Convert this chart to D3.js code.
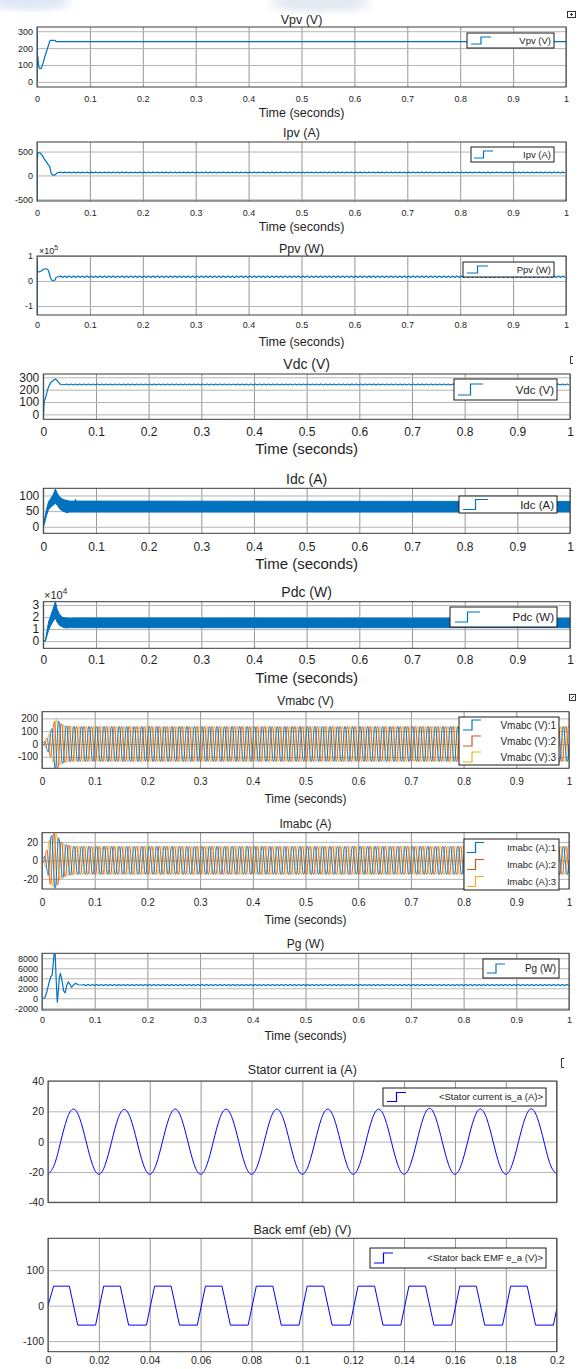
<!DOCTYPE html>
<html><head><meta charset="utf-8">
<script src="https://cdn.jsdelivr.net/npm/d3@7"></script>
<style>
body{margin:0;background:#fff}
svg{display:block}
text{font-family:"Liberation Sans",Arial,Helvetica,sans-serif;fill:#1e1e1e}
</style>
</head><body>
<script>
// ---------------- DATA ----------------
const xTicksA = [0,0.1,0.2,0.3,0.4,0.5,0.6,0.7,0.8,0.9,1];
const xLabelsA = ["0","0.1","0.2","0.3","0.4","0.5","0.6","0.7","0.8","0.9","1"];
const xTicksB = [0,0.02,0.04,0.06,0.08,0.1,0.12,0.14,0.16,0.18,0.2];
const xLabelsB = ["0","0.02","0.04","0.06","0.08","0.1","0.12","0.14","0.16","0.18","0.2"];

// Vpv (V)
const vpvT = [0,0.0001,0.0005,0.0015,0.003,0.005,0.008,0.010,0.014,0.018,0.022,0.025,0.030,0.034,0.036,1.0];
const vpvV = [0,300,160,150,95,80,80,95,140,180,220,246,246,246,238,238];

// Ipv (A)
const ipvT = [0,0.0002,0.0008,0.0015,0.003,0.006,0.010,0.014,0.018,0.021,0.024,0.027,0.030,0.033,0.035,0.038,0.040];
const ipvV = [-535,470,330,470,480,470,420,340,280,230,190,40,5,5,20,55,62];
const ipvSteady = 62, ipvRipple = 8;

// Ppv (W) x1e5
const ppvT = [0,0.0002,0.001,0.004,0.008,0.012,0.016,0.020,0.022,0.025,0.028,0.031,0.034,0.036,0.040];
const ppvV = [-1.36,0.82,0.38,0.36,0.40,0.47,0.49,0.47,0.40,0.15,0.03,0.02,0.04,0.14,0.17];
const ppvSteady = 0.17, ppvRipple = 0.03;

// Vdc (V)
const vdcT = [0,0.001,0.002,0.004,0.007,0.010,0.014,0.018,0.022,0.024,0.027,0.030,0.033,0.036,0.040];
const vdcV = [-20,60,110,130,180,225,255,272,285,283,270,255,242,240,242];
const vdcSteady = 242, vdcRipple = 4;

// Idc (A) envelope of the switching band
const idcT  = [0,0.003,0.006,0.010,0.014,0.018,0.021,0.023,0.026,0.030,0.035,0.040,0.045,0.050,0.060,0.061,0.062,1.0];
const idcHi = [2,30,55,80,90,100,112,121,108,98,90,86,84,82,82,88,82,81];
const idcLo = [0,15,35,55,62,68,72,75,70,60,52,48,45,47,47,47,47,47];

// Pdc (W) x1e4 envelope
const pdcT  = [0,0.004,0.006,0.010,0.014,0.018,0.021,0.023,0.026,0.030,0.035,0.040,0.045,0.050,0.060,1.0];
const pdcHi = [0,0.05,0.6,1.6,2.1,2.6,3.0,3.3,2.7,2.3,2.0,1.95,1.92,1.9,1.92,1.9];
const pdcLo = [0,0.0,0.3,0.9,1.3,1.6,1.8,1.9,1.6,1.35,1.2,1.12,1.1,1.12,1.12,1.12];

// Vmabc (V): three-phase, amplitude envelope
const vmFreq = 70;
const vmEnvT = [0,0.005,0.010,0.015,0.020,0.025,0.030,0.035,0.045,0.060,1.0];
const vmEnvA = [0,20,50,90,130,195,185,160,140,135,135];

// Imabc (A)
const imFreq = 70;
const imEnvT = [0,0.005,0.010,0.015,0.020,0.025,0.030,0.035,0.045,0.060,1.0];
const imEnvA = [0,5,12,25,28,30,26,20,17,15,15];

// Pg (W)
const pgT = [0,0.005,0.009,0.013,0.017,0.019,0.021,0.023,0.025,0.027,0.029,0.031,0.033,0.035,0.038,0.041,0.044,0.047,0.050,0.053,0.056,0.060,0.064,0.068,0.075];
const pgV = [0,0,1200,3000,4400,4500,6500,8900,8800,3500,-800,1500,4200,5000,3500,1500,1100,2600,3300,2800,2200,2700,3000,2700,2650];
const pgSteady = 2650, pgRipple = 120;

// Stator current is_a (A), sampled every 2.5 ms
const isT = d3.range(0, 81).map(i => i * 0.0025);
const isV = [
 -21.5,-15.2,0,15.2,21.5,15.2,0,-15.2,
 -21.5,-15.2,0,15.1,21.3,15.1,0,-15.2,
 -21.5,-15.2,0,15.2,21.5,15.2,0,-15.2,
 -21.5,-15.2,0,15.2,21.4,15.2,0,-15.2,
 -21.5,-15.2,0,15.2,21.5,15.2,0,-15.2,
 -21.5,-15.2,0,15.2,21.5,15.2,0,-15.2,
 -21.5,-15.2,0,15.2,21.4,15.2,0,-15.2,
 -21.5,-15.2,0,15.4,22.0,15.4,0,-15.2,
 -21.5,-15.2,0,15.2,21.5,15.2,0,-15.2,
 -21.5,-15.2,0,15.2,21.6,15.2,0,-15.2,
 -21.5];

// Stator back EMF e_a (V)
const emfT = [0,0.0022,0.0084,0.0117,0.0187,
  0.0219,0.0284,0.0317,0.0387,
  0.0419,0.0484,0.0517,0.0587,
  0.0619,0.0684,0.0717,0.0787,
  0.0819,0.0884,0.0917,0.0987,
  0.1019,0.1084,0.1117,0.1187,
  0.1219,0.1284,0.1317,0.1387,
  0.1419,0.1484,0.1517,0.1587,
  0.1619,0.1684,0.1717,0.1787,
  0.1819,0.1884,0.1917,0.1987,0.2];
const emfV = [0,55,55,-55,-55,
  55,55,-55,-55,
  55,55,-55,-55,
  55,55,-55,-55,
  55,55,-55,-55,
  55,55,-55,-55,
  55,55,-55,-55,
  55,55,-55,-55,
  55,55,-55,-55,
  55,55,-55,-55,-10];

const cBlue = "#0072BD", cOrange = "#D95319", cYellow = "#EDB120", cPure = "#0000FF";

// ---------------- HELPERS ----------------
const W = 579, H = 1369;
const svg = d3.select("body").append("svg").attr("width", W).attr("height", H);
svg.append("rect").attr("width", W).attr("height", H).attr("fill", "#fff");
const defs = svg.append("defs");
defs.append("filter").attr("id","blur").append("feGaussianBlur").attr("stdDeviation", 4);
svg.append("ellipse").attr("cx",30).attr("cy",2).attr("rx",40).attr("ry",8).attr("fill","#dbe6f3").attr("filter","url(#blur)");
svg.append("ellipse").attr("cx",320).attr("cy",3).attr("rx",50).attr("ry",9).attr("fill","#e1e8f1").attr("filter","url(#blur)");

function zip(T, V){ return T.map((t,i)=>[t, V[i]]); }
function addRipple(pts, steady, amp, freq){
  const t0 = pts[pts.length-1][0];
  const step = 1/(freq*4);
  const pat = [0,1,0,-1];
  let k = 0;
  for(let t = t0 + step; t <= 1.0001; t += step, k++) pts.push([t, steady + amp*pat[k%4]]);
  return pts;
}
function threePhase(envT, envA, freq){
  const env = d3.scaleLinear().domain(envT).range(envA);
  const ts = d3.range(0, 1.00001, 0.00025);
  return [0, -2*Math.PI/3, 2*Math.PI/3].map(ph =>
    ts.map(t => { const s = Math.max(-1, Math.min(1, 1.08*Math.sin(2*Math.PI*freq*t + ph))); return [t, env(t)*s]; }));
}

function panel(c){
  const g = svg.append("g");
  const x = d3.scaleLinear().domain(c.xDomain).range([c.left, c.right]);
  const y = d3.scaleLinear().domain(c.yDomain).range([c.bottom, c.top]);
  const w = c.right - c.left, h = c.bottom - c.top;
  const gx = g.append("g").attr("transform", `translate(0,${c.bottom})`)
    .call(d3.axisBottom(x).tickValues(c.xTicks).tickSize(-h).tickFormat(""));
  gx.select(".domain").remove();
  gx.selectAll("line").attr("stroke", "#8a8a8a").attr("stroke-width", 0.9);
  const gy = g.append("g").attr("transform", `translate(${c.left},0)`)
    .call(d3.axisLeft(y).tickValues(c.yTicks).tickSize(-w).tickFormat(""));
  gy.select(".domain").remove();
  gy.selectAll("line").attr("stroke", "#b4b4b4").attr("stroke-width", 1);
  const cid = "clip" + c.id;
  svg.append("clipPath").attr("id", cid).append("rect")
    .attr("x", c.left).attr("y", c.top).attr("width", w).attr("height", h);
  const plot = g.append("g").attr("clip-path", `url(#${cid})`);
  g.append("rect").attr("x", c.left).attr("y", c.top).attr("width", w).attr("height", h)
    .attr("fill", "none").attr("stroke", "#3a3a3a").attr("stroke-width", 1);
  const ly = g.append("g").attr("transform", `translate(${c.left},0)`)
    .call(d3.axisLeft(y).tickValues(c.yTicks).tickSize(0).tickPadding(4).tickFormat(c.yFmt || (d=>d)));
  ly.select(".domain").remove();
  ly.selectAll("text").attr("font-size", c.tickFs).attr("font-family", null).attr("fill", "#1e1e1e");
  if(c.xLabels){
    const lx = g.append("g").attr("transform", `translate(0,${c.bottom})`)
      .call(d3.axisBottom(x).tickValues(c.xTicks).tickSize(0)
        .tickPadding(c.xTickY - c.bottom - 0.36*c.tickFs).tickFormat((d,i)=>c.xLabels[i]));
    lx.select(".domain").remove();
    lx.selectAll("text").attr("font-size", c.tickFs).attr("font-family", null).attr("fill", "#1e1e1e");
  }
  g.append("text").attr("x", (c.left+c.right)/2).attr("y", c.titleY + 0.35*c.titleFs)
    .attr("text-anchor", "middle").attr("font-size", c.titleFs).text(c.title);
  if(c.timeY){
    g.append("text").attr("x", (c.left+c.right)/2).attr("y", c.timeY + 0.35*c.timeFs)
      .attr("text-anchor", "middle").attr("font-size", c.timeFs).text("Time (seconds)");
  }
  if(c.expo){
    const t = g.append("text").attr("x", c.expo.x).attr("y", c.expo.y).attr("font-size", c.expo.fs);
    t.append("tspan").text("\u00d710");
    t.append("tspan").attr("dy", -c.expo.fs*0.4).attr("font-size", c.expo.fs*0.75).text(c.expo.p);
  }
  return {g, plot, x, y, c};
}

function legend(p, L){
  const g = p.g.append("g");
  g.append("rect").attr("x", L.x0).attr("y", L.y0).attr("width", L.x1-L.x0).attr("height", L.y1-L.y0)
    .attr("fill", "#fff").attr("stroke", "#1a1a1a").attr("stroke-width", 1);
  const n = L.items.length, rh = (L.y1 - L.y0) / n;
  L.items.forEach((it, i) => {
    const cy = L.y0 + rh*(i+0.5);
    const a = L.ix0, b = L.ix1, m = (a+b)/2, hh = L.ih/2;
    g.append("path").attr("d", `M${a},${cy+hh}H${m}V${cy-hh}H${b}`)
      .attr("fill", "none").attr("stroke", it.color).attr("stroke-width", 1.2);
    g.append("text").attr("x", L.x1 - 3).attr("y", cy + 0.35*L.fs).attr("text-anchor", "end")
      .attr("font-size", L.fs).text(it.label);
  });
}

function drawLine(p, pts, color, wdt){
  p.plot.append("path").datum(pts)
    .attr("d", d3.line().x(d=>p.x(d[0])).y(d=>p.y(d[1])))
    .attr("fill", "none").attr("stroke", color).attr("stroke-width", wdt || 1.2).attr("stroke-linejoin", "round");
}
function drawBand(p, T, lo, hi, color){
  const pts = T.map((t,i)=>[t, lo[i], hi[i]]);
  p.plot.append("path").datum(pts)
    .attr("d", d3.area().x(d=>p.x(d[0])).y0(d=>p.y(d[1])).y1(d=>p.y(d[2])))
    .attr("fill", color).attr("stroke", color).attr("stroke-width", 1);
}

// ---------------- PANELS ----------------
const A = {xDomain:[0,1], xTicks:xTicksA, xLabels:xLabelsA};

const p1 = panel({...A, id:1, left:37, right:566, top:27, bottom:87, yDomain:[-30,325], yTicks:[0,100,200,300],
  title:"Vpv (V)", titleY:20, titleFs:12.5, tickFs:9, xTickY:99, timeY:113, timeFs:12.5});
drawLine(p1, zip(vpvT, vpvV), cBlue);
legend(p1, {x0:467,y0:33,x1:554,y1:48, ix0:471, ix1:491, ih:7, fs:9.5, items:[{label:"Vpv (V)", color:cBlue}]});

const p2 = panel({...A, id:2, left:37, right:566, top:142, bottom:201, yDomain:[-535,700], yTicks:[-500,0,500],
  title:"Ipv (A)", titleY:133, titleFs:12.5, tickFs:9, xTickY:212.7, timeY:227, timeFs:12.5});
drawLine(p2, addRipple(zip(ipvT, ipvV), ipvSteady, ipvRipple, 120), cBlue);
legend(p2, {x0:471,y0:147,x1:554,y1:162, ix0:474, ix1:493, ih:7, fs:9.5, items:[{label:"Ipv (A)", color:cBlue}]});

const p3 = panel({...A, id:3, left:37, right:566, top:256, bottom:315, yDomain:[-1.36,1.0], yTicks:[-1,0,1],
  title:"Ppv (W)", titleY:249, titleFs:12.5, tickFs:9, xTickY:325, timeY:342, timeFs:12.5,
  expo:{x:39, y:253.5, fs:9, p:"5"}});
drawLine(p3, addRipple(zip(ppvT, ppvV), ppvSteady, ppvRipple, 120), cBlue);
legend(p3, {x0:463,y0:262,x1:554,y1:277, ix0:467, ix1:488, ih:7, fs:9.5, items:[{label:"Ppv (W)", color:cBlue}]});

const p4 = panel({...A, id:4, left:43.3, right:570, top:374, bottom:419.3, yDomain:[-40,327], yTicks:[0,100,200,300],
  title:"Vdc (V)", titleY:364, titleFs:14, tickFs:12, xTickY:431.7, timeY:449, timeFs:15});
drawLine(p4, addRipple(zip(vdcT, vdcV), vdcSteady, vdcRipple, 120), cBlue);
legend(p4, {x0:454,y0:379,x1:557,y1:400, ix0:458, ix1:483, ih:11, fs:11.5, items:[{label:"Vdc (V)", color:cBlue}]});

const p5 = panel({...A, id:5, left:43.3, right:570, top:488.3, bottom:533.3, yDomain:[-21,123], yTicks:[0,50,100],
  title:"Idc (A)", titleY:479, titleFs:14, tickFs:12, xTickY:546.7, timeY:564, timeFs:15});
drawBand(p5, idcT, idcLo, idcHi, cBlue);
legend(p5, {x0:459,y0:496,x1:557,y1:513, ix0:463, ix1:488, ih:10, fs:11.5, items:[{label:"Idc (A)", color:cBlue}]});

const p6 = panel({...A, id:6, left:43.3, right:570, top:601.7, bottom:648.3, yDomain:[-0.6,3.28], yTicks:[0,1,2,3],
  title:"Pdc (W)", titleY:591.7, titleFs:14, tickFs:12, xTickY:660, timeY:678, timeFs:15,
  expo:{x:44, y:598.5, fs:11, p:"4"}});
drawBand(p6, pdcT, pdcLo, pdcHi, cBlue);
legend(p6, {x0:450,y0:607,x1:557,y1:627, ix0:455, ix1:480, ih:10, fs:11.5, items:[{label:"Pdc (W)", color:cBlue}]});

const p7 = panel({...A, id:7, left:42, right:569, top:711.7, bottom:768.3, yDomain:[-190,252], yTicks:[-100,0,100,200],
  title:"Vmabc (V)", titleY:701, titleFs:12, tickFs:10, xTickY:782, timeY:799, timeFs:12});
const vm = threePhase(vmEnvT, vmEnvA, vmFreq);
drawLine(p7, vm[2], cYellow, 0.9); drawLine(p7, vm[1], cOrange, 0.9); drawLine(p7, vm[0], cBlue, 0.9);
legend(p7, {x0:459,y0:717,x1:559,y1:765, ix0:463, ix1:481, ih:10, fs:10,
  items:[{label:"Vmabc (V):1", color:cBlue},{label:"Vmabc (V):2", color:cOrange},{label:"Vmabc (V):3", color:cYellow}]});

const p8 = panel({...A, id:8, left:42, right:569, top:832.7, bottom:889, yDomain:[-31,30], yTicks:[-20,0,20],
  title:"Imabc (A)", titleY:823.3, titleFs:12, tickFs:10, xTickY:902, timeY:920, timeFs:12});
const im = threePhase(imEnvT, imEnvA, imFreq);
drawLine(p8, im[2], cYellow, 0.9); drawLine(p8, im[1], cOrange, 0.9); drawLine(p8, im[0], cBlue, 0.9);
legend(p8, {x0:464,y0:839,x1:559,y1:890, ix0:467, ix1:484, ih:10, fs:9.5,
  items:[{label:"Imabc (A):1", color:cBlue},{label:"Imabc (A):2", color:cOrange},{label:"Imabc (A):3", color:cYellow}]});

const p9 = panel({...A, id:9, left:42, right:569, top:953.3, bottom:1010, yDomain:[-2350,9000], yTicks:[-2000,0,2000,4000,6000,8000],
  title:"Pg (W)", titleY:944, titleFs:12, tickFs:9, xTickY:1020, timeY:1036, timeFs:12});
drawLine(p9, addRipple(zip(pgT, pgV), pgSteady, pgRipple, 120), cBlue);
legend(p9, {x0:483,y0:959,x1:559,y1:978, ix0:487, ix1:505, ih:9, fs:10, items:[{label:"Pg (W)", color:cBlue}]});

const B = {xDomain:[0,0.2], xTicks:xTicksB};
const p10 = panel({...B, id:10, left:48, right:556.7, top:1081, bottom:1202.3, yDomain:[-40,40], yTicks:[-40,-20,0,20,40],
  title:"Stator current ia (A)", titleY:1070, titleFs:12.5, tickFs:10.5, xLabels:null});
p10.plot.append("path").datum(zip(isT, isV))
  .attr("d", d3.line().curve(d3.curveNatural).x(d=>p10.x(d[0])).y(d=>p10.y(d[1])))
  .attr("fill", "none").attr("stroke", cPure).attr("stroke-width", 1);
legend(p10, {x0:383,y0:1088,x1:546,y1:1106, ix0:387, ix1:406, ih:9, fs:9.5, items:[{label:"<Stator current is_a (A)>", color:cPure}]});

const p11 = panel({...B, id:11, left:48, right:556.7, top:1238.3, bottom:1351.7, yDomain:[-130,190], yTicks:[-100,0,100],
  title:"Back emf (eb) (V)", titleY:1230, titleFs:12.5, tickFs:10.5, xLabels:xLabelsB, xTickY:1360});
drawLine(p11, zip(emfT, emfV), cPure, 1);
legend(p11, {x0:370,y0:1248,x1:546,y1:1268, ix0:374, ix1:393, ih:10, fs:9.5, items:[{label:"<Stator back EMF e_a (V)>", color:cPure}]});

const deco = svg.append("g").attr("fill","none").attr("stroke","#333").attr("stroke-width",1);
deco.append("rect").attr("x",567.5).attr("y",11.5).attr("width",8).attr("height",6);
deco.append("path").attr("d","M570,14.5H573M571.5,13V16");
deco.append("path").attr("d","M573,356.5H570.5V363.5H573");
deco.append("rect").attr("x",569.5).attr("y",694.5).attr("width",6).attr("height",6);
deco.append("path").attr("d","M571,699L574,696");
deco.append("path").attr("d","M564,1058.5H561.5V1067.5H564");
</script>
</body></html>
